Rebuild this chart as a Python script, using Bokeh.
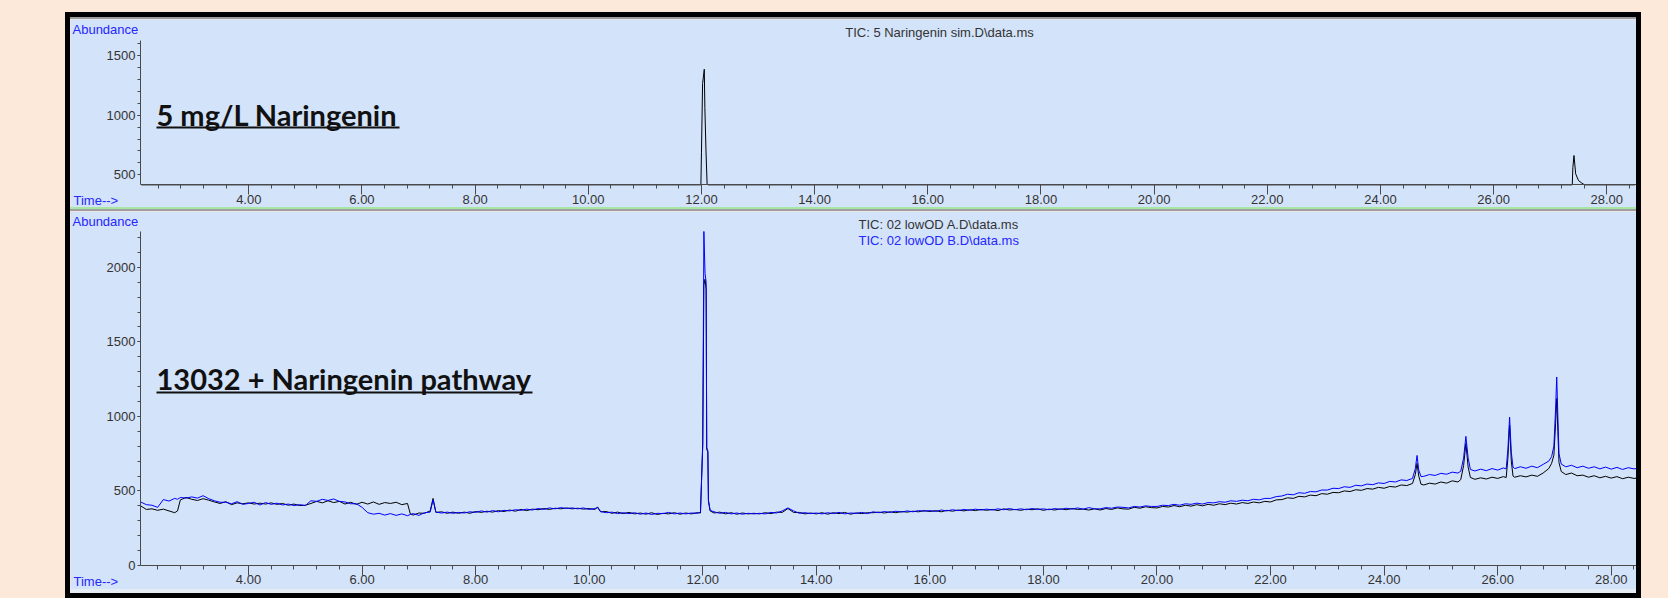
from bokeh.plotting import figure
from bokeh.models import (Range1d, FixedTicker, PrintfTickFormatter, Label, Arrow, Spacer)
from bokeh.layouts import column, row
from bokeh.embed import file_html
from bokeh.resources import INLINE

# ---------------- data ----------------
# top panel: 5 mg/L Naringenin standard (TIC); baseline sits at the axis floor
TIME_STD = [2.10, 11.99, 12.00, 12.02, 12.05, 12.06, 12.08, 12.10, 12.12,
            27.39, 27.40, 27.42, 27.45, 27.50, 27.56, 27.60, 27.62, 28.50]
ABUND_STD = [416, 416, 690, 1265, 1385, 1066, 700, 420, 416,
             416, 560, 662, 508, 452, 430, 418, 416, 416]

# bottom panel: two runs, shared retention times
TIME_AB = [
    2.10, 2.20, 2.30, 2.40, 2.50, 2.60, 2.70, 2.75, 2.80, 2.90,
    3.00, 3.10, 3.20, 3.30, 3.40, 3.50, 3.60, 3.70, 3.80, 3.90,
    4.00, 4.10, 4.20, 4.30, 4.40, 4.50, 4.60, 4.70, 4.80, 4.90,
    5.00, 5.10, 5.20, 5.30, 5.40, 5.50, 5.60, 5.70, 5.80, 5.90,
    6.00, 6.10, 6.20, 6.30, 6.40, 6.50, 6.60, 6.70, 6.80, 6.85,
    6.90, 7.00, 7.10, 7.20, 7.25, 7.30, 7.40, 7.50, 7.60, 7.70,
    7.80, 7.90, 8.00, 8.10, 8.20, 8.30, 8.40, 8.50, 8.60, 8.70,
    8.80, 8.90, 9.00, 9.10, 9.20, 9.30, 9.40, 9.50, 9.60, 9.70,
    9.80, 9.90, 10.00, 10.10, 10.15, 10.20, 10.30, 10.40, 10.50, 10.60,
    10.70, 10.80, 10.90, 11.00, 11.10, 11.20, 11.30, 11.40, 11.50, 11.60,
    11.70, 11.80, 11.90, 11.96, 12.00, 12.02, 12.04, 12.06, 12.07, 12.09,
    12.10, 12.13, 12.20, 12.30, 12.40, 12.50, 12.60, 12.70, 12.80, 12.90,
    13.00, 13.10, 13.20, 13.30, 13.40, 13.50, 13.60, 13.70, 13.80, 13.90,
    14.00, 14.10, 14.20, 14.30, 14.40, 14.50, 14.60, 14.70, 14.80, 14.90,
    15.00, 15.10, 15.20, 15.30, 15.40, 15.50, 15.60, 15.70, 15.80, 15.90,
    16.00, 16.10, 16.20, 16.30, 16.40, 16.50, 16.60, 16.70, 16.80, 16.90,
    17.00, 17.10, 17.20, 17.30, 17.40, 17.50, 17.60, 17.70, 17.80, 17.90,
    18.00, 18.10, 18.20, 18.30, 18.40, 18.50, 18.60, 18.70, 18.80, 18.90,
    19.00, 19.10, 19.20, 19.30, 19.40, 19.50, 19.60, 19.70, 19.80, 19.90,
    20.00, 20.10, 20.20, 20.30, 20.40, 20.50, 20.60, 20.70, 20.80, 20.90,
    21.00, 21.10, 21.20, 21.30, 21.40, 21.50, 21.60, 21.70, 21.80, 21.90,
    22.00, 22.10, 22.20, 22.30, 22.40, 22.50, 22.60, 22.70, 22.80, 22.90,
    23.00, 23.10, 23.20, 23.30, 23.40, 23.50, 23.60, 23.70, 23.80, 23.90,
    24.00, 24.10, 24.20, 24.30, 24.40, 24.50, 24.55, 24.58, 24.61, 24.65,
    24.70, 24.80, 24.90, 25.00, 25.10, 25.20, 25.30, 25.35, 25.40, 25.44,
    25.48, 25.52, 25.60, 25.70, 25.80, 25.90, 26.00, 26.10, 26.15, 26.18,
    26.21, 26.24, 26.27, 26.30, 26.40, 26.50, 26.60, 26.70, 26.80, 26.90,
    26.95, 26.99, 27.02, 27.04, 27.06, 27.08, 27.12, 27.20, 27.30, 27.40,
    27.50, 27.60, 27.70, 27.80, 27.90, 28.00, 28.10, 28.20, 28.30, 28.40,
    28.50,
]
ABUND_A = [  # TIC: 02 lowOD A.D (black)
    400, 376, 380, 370, 378, 366, 354, 366, 440, 456,
    444, 436, 448, 438, 426, 416, 428, 408, 420, 414,
    420, 412, 418, 412, 420, 410, 416, 404, 412, 402,
    404, 416, 430, 420, 434, 422, 430, 412, 424, 410,
    424, 412, 426, 410, 422, 416, 424, 408, 416, 346,
    338, 352, 350, 366, 450, 356, 360, 350, 358, 350,
    358, 350, 362, 356, 364, 358, 368, 362, 372, 364,
    376, 368, 378, 374, 382, 376, 384, 380, 386, 380,
    384, 378, 382, 376, 392, 360, 362, 350, 358, 348,
    356, 346, 352, 344, 354, 342, 350, 346, 354, 344,
    352, 346, 354, 352, 820, 1880, 1920, 1850, 780, 760,
    430, 366, 352, 358, 346, 354, 344, 352, 346, 350,
    346, 354, 348, 358, 356, 382, 356, 356, 346, 352,
    346, 354, 344, 354, 348, 356, 344, 352, 348, 354,
    354, 358, 352, 360, 354, 362, 358, 364, 360, 368,
    362, 368, 360, 370, 364, 372, 366, 374, 368, 376,
    370, 376, 368, 380, 372, 376, 370, 378, 374, 380,
    370, 378, 372, 380, 374, 382, 376, 378, 372, 380,
    372, 382, 376, 386, 380, 378, 390, 384, 394, 388,
    386, 396, 392, 402, 394, 404, 398, 408, 400, 410,
    404, 414, 408, 418, 412, 422, 416, 426, 420, 430,
    426, 440, 442, 454, 450, 464, 460, 472, 468, 482,
    478, 490, 488, 500, 496, 508, 504, 516, 512, 524,
    518, 530, 526, 540, 536, 550, 610, 685, 600, 545,
    540, 552, 546, 560, 552, 568, 560, 576, 670, 818,
    660, 590, 578, 588, 580, 592, 584, 596, 590, 720,
    940, 700, 600, 592, 602, 594, 606, 598, 620, 650,
    685, 740, 950, 1120, 900, 690, 630, 610, 620, 602,
    606, 592, 602, 588, 598, 586, 596, 582, 592, 584,
    588,
]
ABUND_B = [  # TIC: 02 lowOD B.D (blue)
    426, 408, 404, 390, 442, 432, 450, 444, 456, 452,
    460, 452, 468, 448, 434, 424, 424, 414, 428, 410,
    416, 424, 406, 422, 410, 418, 406, 412, 402, 408,
    402, 434, 430, 444, 436, 446, 430, 426, 414, 414,
    390, 354, 344, 350, 338, 348, 336, 346, 334, 342,
    348, 336, 354, 358, 440, 358, 352, 358, 350, 356,
    352, 360, 356, 366, 358, 368, 360, 370, 366, 374,
    370, 378, 372, 382, 376, 386, 380, 388, 382, 386,
    380, 386, 376, 382, 388, 362, 354, 358, 348, 354,
    348, 354, 344, 352, 342, 350, 348, 356, 346, 352,
    346, 352, 350, 358, 800, 2240, 1960, 1900, 790, 770,
    440, 370, 360, 350, 356, 346, 352, 344, 350, 346,
    350, 346, 356, 352, 366, 386, 366, 350, 354, 348,
    352, 346, 354, 348, 356, 346, 352, 350, 356, 348,
    360, 354, 362, 356, 364, 358, 366, 360, 368, 364,
    368, 362, 372, 366, 374, 368, 376, 370, 378, 372,
    378, 372, 380, 374, 382, 374, 380, 374, 382, 376,
    380, 374, 382, 376, 384, 378, 386, 378, 388, 380,
    380, 388, 384, 392, 390, 386, 396, 392, 400, 396,
    396, 404, 402, 410, 404, 414, 410, 418, 412, 422,
    420, 428, 424, 434, 430, 438, 434, 444, 440, 450,
    450, 462, 466, 478, 474, 488, 484, 496, 494, 506,
    506, 518, 516, 528, 524, 538, 534, 546, 542, 554,
    550, 564, 560, 574, 570, 584, 650, 738, 640, 596,
    598, 610, 604, 618, 612, 626, 620, 632, 720, 866,
    720, 644, 634, 646, 636, 650, 640, 654, 648, 780,
    995, 760, 660, 650, 662, 652, 666, 656, 678, 700,
    730, 800, 1050, 1264, 1000, 750, 680, 662, 672, 656,
    666, 652, 662, 648, 660, 646, 658, 644, 656, 648,
    652,
]

X_MAJOR = [4, 6, 8, 10, 12, 14, 16, 18, 20, 22, 24, 26, 28]
Y_MAJOR_TOP = [500, 1000, 1500]
Y_MAJOR_BOT = [0, 500, 1000, 1500, 2000]

# ---------------- styling ----------------
PEACH = "#FDE9D9"
PANEL = "#D3E3FA"
AXIS = "#4A4A4A"
TXT = "#333333"
BLUE_TXT = "#2626FF"
TRACE_BLUE = "#0000FF"
FONT = "Liberation Sans"
BIG_FONT = "Lato"

X_MINOR = [round(2.4 + 0.4 * i, 1) for i in range(66)]


def make_fig(h, xr, yr, x_axis_span, y_axis_span, yticks, yminor):
    p = figure(width=1566, height=h,
               x_range=Range1d(*xr), y_range=Range1d(*yr),
               output_backend="svg", toolbar_location=None,
               min_border_left=0, min_border_right=0,
               min_border_top=0, min_border_bottom=0,
               background_fill_color=PANEL, border_fill_color=PANEL,
               outline_line_color=None)
    p.xgrid.visible = False
    p.ygrid.visible = False
    xa, ya = p.xaxis[0], p.yaxis[0]
    xa.ticker = FixedTicker(ticks=X_MAJOR, minor_ticks=X_MINOR)
    xa.formatter = PrintfTickFormatter(format="%.2f")
    ya.ticker = FixedTicker(ticks=yticks, minor_ticks=yminor)
    # axes drawn at the chromatogram origin, limited to the plotted span
    xa.fixed_location = y_axis_span[0]
    xa.bounds = x_axis_span
    ya.fixed_location = x_axis_span[0]
    ya.bounds = y_axis_span
    for ax in (xa, ya):
        ax.axis_line_color = AXIS
        ax.major_tick_line_color = AXIS
        ax.minor_tick_line_color = AXIS
        ax.major_tick_in = 0
        ax.minor_tick_in = 0
        ax.major_label_text_font = FONT
        ax.major_label_text_font_size = "13px"
        ax.major_label_text_color = TXT
    xa.major_tick_out = 10
    xa.minor_tick_out = 4
    xa.major_label_standoff = 0
    ya.major_tick_out = 3
    ya.minor_tick_out = 3
    ya.major_label_standoff = 2
    return p


def txt(p, x, y, s, color=TXT, font=FONT, size="13px", style="normal",
        align="left"):
    p.add_layout(Label(x=x, y=y, x_units="screen", y_units="screen", text=s,
                       text_font=font, text_font_size=size, text_color=color,
                       text_font_style=style, text_baseline="middle",
                       text_align=align))


def underline(p, x0, x1, y):
    p.add_layout(Arrow(end=None, x_start=x0, y_start=y, x_end=x1, y_end=y,
                       start_units="screen", end_units="screen",
                       line_color="#111111", line_width=2))


# ---- top panel (188 px tall) ----
p1 = make_fig(188, (0.849, 28.525), (226, 1802), (2.086, 28.525), (416, 1626),
              Y_MAJOR_TOP, list(range(600, 1700, 100)))
p1.line(TIME_STD, ABUND_STD, line_color="black", line_width=1)
txt(p1, 2, 178, "Abundance", color=BLUE_TXT)
txt(p1, 3, 7, "Time-->", color=BLUE_TXT)
txt(p1, 869, 175, "TIC: 5 Naringenin sim.D\\data.ms", align="center")
txt(p1, 86, 93, "5 mg/L Naringenin", color="#111111", font=BIG_FONT,
    size="29px", style="bold")
underline(p1, 86, 329, 80)

# ---- bottom panel (378 px tall) ----
p2 = make_fig(378, (0.865, 28.445), (-161, 2374), (2.098, 28.445), (0, 2240),
              Y_MAJOR_BOT, list(range(100, 2300, 100)))
p2.line(TIME_AB, ABUND_A, line_color="black", line_width=1)
p2.line(TIME_AB, ABUND_B, line_color=TRACE_BLUE, line_width=1)
txt(p2, 2, 368, "Abundance", color=BLUE_TXT)
txt(p2, 3, 8, "Time-->", color=BLUE_TXT)
txt(p2, 788, 365, "TIC: 02 lowOD A.D\\data.ms")
txt(p2, 788, 349, "TIC: 02 lowOD B.D\\data.ms", color=BLUE_TXT)
txt(p2, 86, 211, "13032 + Naringenin pathway", color="#111111", font=BIG_FONT,
    size="29px", style="bold")
underline(p2, 86, 462, 197)


def bar(w, h, color):
    return Spacer(width=w, height=h, styles={"background-color": color})


inner = column(bar(1566, 2, "#9C9C9C"), p1, bar(1566, 2, "#A8E6A6"),
               bar(1566, 2, "#A0A0A0"), p2, bar(1566, 4, "#E6ECF4"))
framed = column(bar(1576, 5, "black"),
                row(bar(5, 576, "black"), inner, bar(5, 576, "black")),
                bar(1576, 5, "black"))
page = column(Spacer(width=10, height=12),
              row(Spacer(width=65, height=10), framed))

html = file_html(page, INLINE, title="TIC chromatograms")
html = html.replace("</head>",
                    "<style>html,body{background-color:%s;}</style></head>" % PEACH, 1)
open("out.html", "w").write(html)
